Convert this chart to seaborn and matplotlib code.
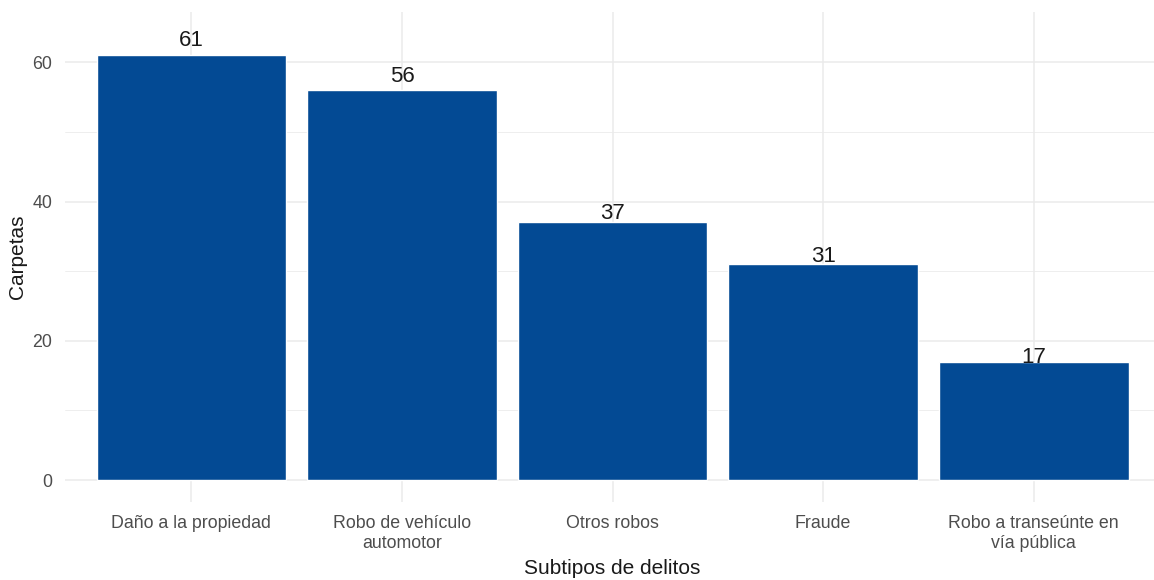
import matplotlib
matplotlib.use("Agg")
import matplotlib.pyplot as plt
import seaborn as sns
import pandas as pd

# data
subtipos = ["Daño a la propiedad", "Robo de vehículo\nautomotor", "Otros robos",
            "Fraude", "Robo a transeúnte en\nvía pública"]
carpetas = [61, 56, 37, 31, 17]

BAR_COLOR = "#034A94"
GRID = "#EBEBEB"

sns.set_theme(style="white")
plt.rcParams["font.family"] = ["Liberation Sans", "DejaVu Sans"]

df = pd.DataFrame({"subtipo": subtipos, "carpetas": carpetas})

fig = plt.figure(figsize=(11.54, 5.80), dpi=100)
ax = fig.add_axes([0.0563, 0.134, 0.949, 0.845])

sns.barplot(data=df, x="subtipo", y="carpetas", color=BAR_COLOR, width=0.9,
            saturation=1, ax=ax, zorder=3)

for i, v in enumerate(carpetas):
    ax.text(i, v * 1.035, str(v), ha="center", va="center", fontsize=16,
            color="#1a1a1a", zorder=4)

ax.set_xlim(-0.6, 4.6)
ax.set_ylim(-3.2, 67.2)
ax.set_yticks([0, 20, 40, 60])
ax.set_yticks([10, 30, 50], minor=True)
ax.grid(True, which="major", color=GRID, linewidth=1.1, zorder=0)
ax.grid(True, which="minor", axis="y", color=GRID, linewidth=0.6, zorder=0)
for s in ax.spines.values():
    s.set_visible(False)
ax.tick_params(axis="both", which="both", length=0)
ax.tick_params(axis="x", pad=9, labelsize=12.8, labelcolor="#4D4D4D")
ax.tick_params(axis="y", pad=9, labelsize=12.8, labelcolor="#4D4D4D")
for lbl in ax.get_xticklabels():
    lbl.set_multialignment("center")
    lbl.set_linespacing(1.25)

ax.set_xlabel("Subtipos de delitos", fontsize=15, color="#1a1a1a", labelpad=5)
ax.set_ylabel("Carpetas", fontsize=15, color="#1a1a1a", labelpad=4)

fig.savefig("out.png", dpi=100)
